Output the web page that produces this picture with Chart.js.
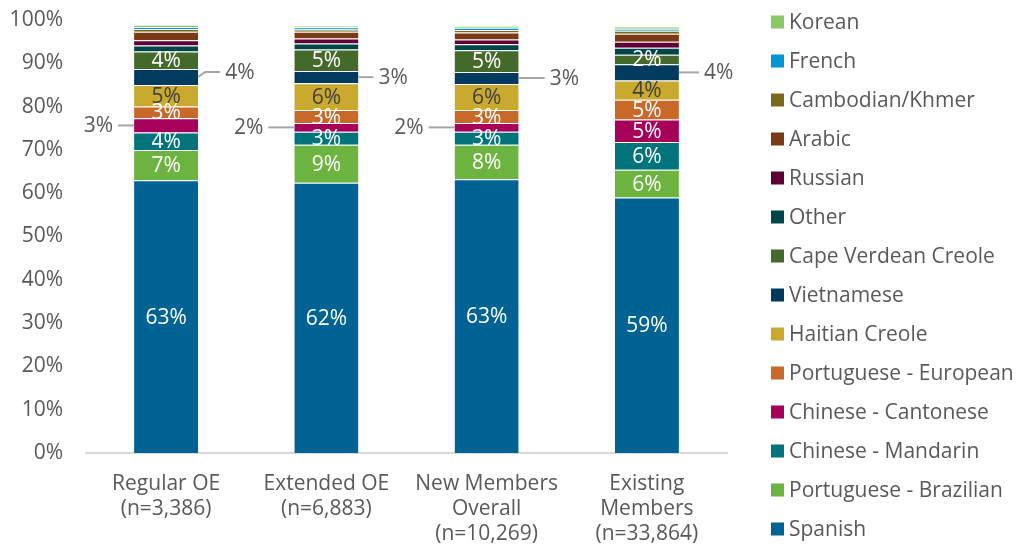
<!DOCTYPE html>
<html>
<head>
<meta charset="utf-8">
<script src="https://cdn.jsdelivr.net/npm/chart.js@4/dist/chart.umd.min.js"></script>
<style>
  html, body { margin: 0; padding: 0; background: #fff; }
</style>
</head>
<body>
<canvas id="chart" width="1021" height="548"></canvas>
<script>
// categories (x axis)
const categories = [
  ['Regular OE', '(n=3,386)'],
  ['Extended OE', '(n=6,883)'],
  ['New Members', 'Overall', '(n=10,269)'],
  ['Existing', 'Members', '(n=33,864)']
]

// series, bottom of the stack first (percent of members)
const spanish     = [63, 62.4, 63.2, 59]
const brazilian   = [7, 8.8, 8, 6.4]
const mandarin    = [4, 3, 3, 6.4]
const cantonese   = [3.3, 2, 2, 5.2]
const portEur     = [2.7, 3, 3, 4.6]
const haitian     = [5, 6.2, 6, 4.4]
const vietnamese  = [3.7, 2.8, 2.8, 3.8]
const capeVerdean = [4, 5, 5, 2.2]
const other       = [1.4, 1.4, 1.4, 1.6]
const russian     = [1.2, 1.1, 1.1, 1.4]
const arabic      = [2, 1.6, 1.6, 1.8]
const cambodian   = [0.6, 0.5, 0.6, 0.7]
const french      = [0.5, 0.5, 0.5, 0.5]
const korean      = [0.5, 0.4, 0.5, 0.5]

const yTicks = [0, 10, 20, 30, 40, 50, 60, 70, 80, 90, 100]

const seriesNames = ['Spanish', 'Portuguese - Brazilian', 'Chinese - Mandarin', 'Chinese - Cantonese',
  'Portuguese - European', 'Haitian Creole', 'Vietnamese', 'Cape Verdean Creole', 'Other',
  'Russian', 'Arabic', 'Cambodian/Khmer', 'French', 'Korean']
const seriesData = [spanish, brazilian, mandarin, cantonese, portEur, haitian, vietnamese,
  capeVerdean, other, russian, arabic, cambodian, french, korean]
const seriesColors = ['#006394', '#6db33f', '#00747a', '#a7005b', '#c8692a', '#c9a92e', '#003a5d',
  '#44692a', '#004548', '#5e0035', '#7a3a16', '#7a6a1a', '#0096d6', '#8cc765']

// which bars get a label inside the segment (by series index)
const insideLabels = { 0: [0, 1, 2, 3], 1: [0, 1, 2, 3], 2: [0, 1, 2, 3], 3: [3], 4: [0, 1, 2, 3], 5: [0, 1, 2, 3], 7: [0, 1, 2, 3] }
const darkLabelSeries = [5]
// callouts with leader lines
const leftCallout = { series: 3, bars: [0, 1, 2], len: [16, 26, 26] }
const rightCallout = { series: 6, bars: [0, 1, 2, 3], len: [22, 15, 26, 20], dy: [-5, 0, 0, 0] }

const textColor = '#595959'
const fontFamily = '"Open Sans", "Liberation Sans", sans-serif'
const fontSize = 21

const segLabels = {
  id: 'segLabels',
  afterDatasetsDraw(chart) {
    const ctx = chart.ctx
    ctx.save()
    ctx.font = fontSize + 'px ' + fontFamily
    ctx.textBaseline = 'middle'
    chart.data.datasets.forEach((ds, di) => {
      const meta = chart.getDatasetMeta(di)
      meta.data.forEach((bar, i) => {
        const txt = Math.round(ds.data[i]) + '%'
        const yMid = (bar.y + bar.base) / 2
        const half = bar.width / 2
        if (insideLabels[di] && insideLabels[di].includes(i)) {
          ctx.textAlign = 'center'
          ctx.fillStyle = darkLabelSeries.includes(di) ? '#404040' : '#ffffff'
          ctx.fillText(txt, bar.x, yMid + 1)
        }
        if (di === leftCallout.series && leftCallout.bars.includes(i)) {
          const x0 = bar.x - half
          const x1 = x0 - leftCallout.len[i]
          ctx.strokeStyle = '#a6a6a6'
          ctx.lineWidth = 2
          ctx.beginPath(); ctx.moveTo(x0, yMid); ctx.lineTo(x1, yMid); ctx.stroke()
          ctx.textAlign = 'right'
          ctx.fillStyle = textColor
          ctx.fillText(txt, x1 - 5, yMid + 1)
        }
        if (di === rightCallout.series && rightCallout.bars.includes(i)) {
          const x0 = bar.x + half
          const dy = rightCallout.dy[i]
          const x1 = x0 + rightCallout.len[i]
          ctx.strokeStyle = '#a6a6a6'
          ctx.lineWidth = 2
          ctx.beginPath()
          ctx.moveTo(x0, yMid)
          if (dy) ctx.lineTo(x0 + 7, yMid + dy)
          ctx.lineTo(x1, yMid + dy)
          ctx.stroke()
          ctx.textAlign = 'left'
          ctx.fillStyle = textColor
          ctx.fillText(txt, x1 + 5, yMid + dy + 1)
        }
      })
    })
    ctx.restore()
  }
}

// single-column legend on the right, top item = top of stack
const sideLegend = {
  id: 'sideLegend',
  afterDraw(chart) {
    const ctx = chart.ctx
    const items = chart.data.datasets.map((d, i) => ({ text: d.label, color: d.backgroundColor })).reverse()
    ctx.save()
    ctx.font = fontSize + 'px ' + fontFamily
    ctx.textBaseline = 'middle'
    ctx.textAlign = 'left'
    items.forEach((it, k) => {
      const y = 22 + k * 39
      ctx.fillStyle = it.color
      ctx.fillRect(771, y - 6.5, 13, 13)
      ctx.fillStyle = textColor
      ctx.fillText(it.text, 789, y + 1)
    })
    ctx.restore()
  }
}

new Chart(document.getElementById('chart'), {
  type: 'bar',
  data: {
    labels: categories,
    datasets: seriesNames.map((name, i) => ({
      label: name,
      data: seriesData[i],
      backgroundColor: seriesColors[i],
      borderColor: 'rgba(255,255,255,0.45)',
      borderWidth: { top: 1, left: 0, right: 0, bottom: 0 },
      borderSkipped: false,
      barPercentage: 0.4,
      categoryPercentage: 1
    }))
  },
  options: {
    responsive: false,
    animation: false,
    layout: { padding: { top: 20, right: 294, bottom: 0, left: 0 } },
    plugins: {
      legend: { display: false },
      tooltip: { enabled: false }
    },
    scales: {
      x: {
        stacked: true,
        grid: { display: false, drawTicks: false },
        border: { display: true, color: '#d9d9d9', width: 2 },
        ticks: {
          color: textColor,
          padding: 18,
          maxRotation: 0,
          autoSkip: false,
          font: { family: fontFamily, size: fontSize, lineHeight: 1.2 }
        },
        afterFit(scale) { scale.height = 95 }
      },
      y: {
        stacked: true,
        min: 0,
        max: 100,
        grid: { display: false, drawTicks: false },
        border: { display: false },
        afterBuildTicks(scale) { scale.ticks = yTicks.map(v => ({ value: v })) },
        ticks: {
          color: textColor,
          padding: 23,
          callback: v => v + '%',
          font: { family: fontFamily, size: fontSize }
        },
        afterFit(scale) {
          scale.width = 86
          scale.paddingTop = 0
          scale.paddingBottom = 0
        }
      }
    }
  },
  plugins: [segLabels, sideLegend]
})
</script>
</body>
</html>
